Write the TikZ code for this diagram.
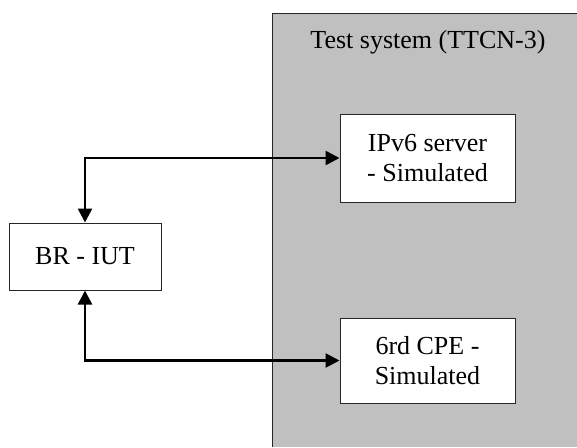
\documentclass[tikz,border=0pt]{standalone}
\usepackage{fontspec}
\setmainfont{Liberation Serif}
\usetikzlibrary{arrows.meta}
\definecolor{panelgray}{HTML}{C0C0C0}
\tikzset{
  unit/.style={draw=black!85, line width=1pt, fill=white, align=center,
    inner sep=0pt, font=\fontsize{26}{30}\selectfont},
  link/.style={line width=2.6pt, {Triangle[length=14pt,width=14pt]}-{Triangle[length=14pt,width=14pt]}}
}
\begin{document}
\begin{tikzpicture}[x=1pt,y=-1pt]
  \useasboundingbox (0,0) rectangle (577,447);
  % test system panel
  \fill[panelgray] (272,13) rectangle (577,447);
  \draw[line width=1pt, black!85] (272,447) -- (272,13) -- (577,13);
  \node[font=\fontsize{26}{30}\selectfont] (title) at (428,42) {Test system (TTCN-3)};
  % components
  \node[unit, minimum width=152pt, minimum height=67pt] (br) at (85,256.5) {BR - IUT};
  \node[unit, minimum width=175pt, minimum height=88pt] (ipv6) at (427.5,158) {IPv6 server\\- Simulated};
  \node[unit, minimum width=175pt, minimum height=85pt] (cpe) at (427.5,360.5) {6rd CPE -\\Simulated};
  % links
  \draw[link] (br.north) |- (ipv6.west);
  \draw[link] (br.south) |- (cpe.west);
\end{tikzpicture}
\end{document}
